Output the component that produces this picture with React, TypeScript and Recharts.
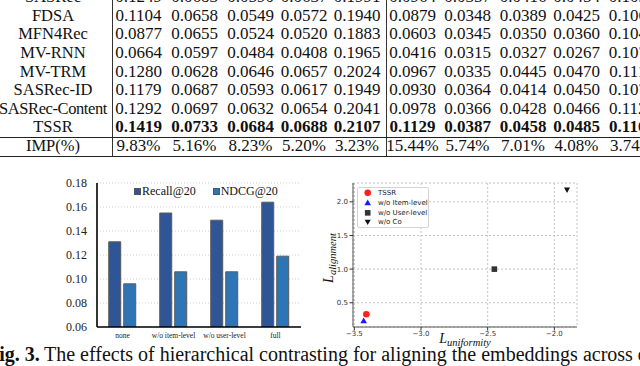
import React from 'react';
import {
  BarChart,
  Bar,
  XAxis,
  YAxis,
  CartesianGrid,
  Legend,
  ScatterChart,
  Scatter,
  Label
} from 'recharts';

const SERIF = '"Liberation Serif", "Times New Roman", serif';
const SANS = '"DejaVu Sans", sans-serif';

// results table (cropped at the top of the figure)
const methods = ['SASRec', 'FDSA', 'MFN4Rec', 'MV-RNN', 'MV-TRM', 'SASRec-ID', 'SASRec-Content', 'TSSR'];
const sasrecRow = ['0.1249', '0.0683', '0.0590', '0.0637', '0.1991', '0.0964', '0.0357', '0.0416', '0.0454', '0.1051'];
const fdsaRow = ['0.1104', '0.0658', '0.0549', '0.0572', '0.1940', '0.0879', '0.0348', '0.0389', '0.0425', '0.1066'];
const mfn4recRow = ['0.0877', '0.0655', '0.0524', '0.0520', '0.1883', '0.0603', '0.0345', '0.0350', '0.0360', '0.1045'];
const mvRnnRow = ['0.0664', '0.0597', '0.0484', '0.0408', '0.1965', '0.0416', '0.0315', '0.0327', '0.0267', '0.1071'];
const mvTrmRow = ['0.1280', '0.0628', '0.0646', '0.0657', '0.2024', '0.0967', '0.0335', '0.0445', '0.0470', '0.1113'];
const sasrecIdRow = ['0.1179', '0.0687', '0.0593', '0.0617', '0.1949', '0.0930', '0.0364', '0.0414', '0.0450', '0.1074'];
const sasrecContentRow = ['0.1292', '0.0697', '0.0632', '0.0654', '0.2041', '0.0978', '0.0366', '0.0428', '0.0466', '0.1122'];
const tssrRow = ['0.1419', '0.0733', '0.0684', '0.0688', '0.2107', '0.1129', '0.0387', '0.0458', '0.0485', '0.1164'];
const methodRows = [sasrecRow, fdsaRow, mfn4recRow, mvRnnRow, mvTrmRow, sasrecIdRow, sasrecContentRow, tssrRow];
const impLabel = 'IMP(%)';
const impRow = ['9.83%', '5.16%', '8.23%', '5.20%', '3.23%', '15.44%', '5.74%', '7.01%', '4.08%', '3.74%'];

// bar chart: hierarchical contrasting ablation
const variants = ['none', 'w/o item-level', 'w/o user-level', 'full'];
const recall20 = [0.131, 0.155, 0.149, 0.164];
const ndcg20 = [0.096, 0.106, 0.106, 0.119];
const barTicks = [0.06, 0.08, 0.1, 0.12, 0.14, 0.16, 0.18];

// scatter: alignment vs uniformity
const scatterNames = ['TSSR', 'w/o Item-level', 'w/o User-level', 'w/o Co'];
const uniformity = [-3.41, -3.43, -2.45, -1.905];
const alignment = [0.33, 0.23, 1.0, 2.18];
const uTicks = [-3.5, -3.0, -2.5, -2.0];
const aTicks = [0.5, 1.0, 1.5, 2.0];

const barData = variants.map((v, i) => ({ variant: v, recall: recall20[i], ndcg: ndcg20[i] }));
const barSeries = [
  { key: 'recall', name: 'Recall@20', color: '#2F5597' },
  { key: 'ndcg', name: 'NDCG@20', color: '#2E75B6' }
];

const ROW_H = 18.6;
const ROW0_TOP = -11.9;
const LABEL_CENTER = 53;
const colCenters = [138.5, 194.5, 250.5, 304, 357, 412.5, 467.5, 523, 576.5, 632];

function ResultsTable() {
  const rows = [
    ...methods.map((m, i) => ({ label: m, cells: methodRows[i], bold: m === 'TSSR' })),
    { label: impLabel, cells: impRow, bold: false }
  ];
  return (
    <div
      style={{
        position: 'absolute',
        left: 0,
        top: 0,
        width: 640,
        height: 160,
        overflow: 'hidden',
        fontFamily: SERIF,
        color: '#111'
      }}
    >
      {rows.map((r, i) => {
        const top = ROW0_TOP + i * ROW_H;
        const line = { position: 'absolute' as const, top, height: ROW_H, lineHeight: `${ROW_H}px`, whiteSpace: 'nowrap' as const, textAlign: 'center' as const };
        return (
          <React.Fragment key={r.label}>
            <div style={{ ...line, left: LABEL_CENTER - 90, width: 180, fontSize: 16.5, letterSpacing: r.label.length > 12 ? -0.4 : 0 }}>{r.label}</div>
            {r.cells.map((c, j) => (
              <div
                key={j}
                style={{ ...line, left: colCenters[j] - 40, width: 80, fontSize: 17, fontWeight: r.bold ? 700 : 400 }}
              >
                {c}
              </div>
            ))}
          </React.Fragment>
        );
      })}
      <div style={{ position: 'absolute', left: 111.5, top: 0, width: 1, height: 157, background: '#333' }} />
      <div style={{ position: 'absolute', left: 385.5, top: 0, width: 1, height: 157, background: '#333' }} />
      <div style={{ position: 'absolute', left: 0, top: 136.8, width: 640, height: 0.8, background: '#222' }} />
      <div style={{ position: 'absolute', left: 0, top: 155.6, width: 640, height: 1.3, background: '#222' }} />
    </div>
  );
}

function BarLegend() {
  return (
    <div style={{ display: 'flex', fontFamily: SERIF, fontSize: 12, color: '#111', lineHeight: '13px' }}>
      {barSeries.map(s => (
        <span key={s.key} style={{ display: 'flex', alignItems: 'center', marginRight: 17 }}>
          <span
            style={{ width: 5, height: 5, background: s.color, border: '1px solid #555', marginRight: 1 }}
          />
          {s.name}
        </span>
      ))}
    </div>
  );
}

const frame = { stroke: '#000', strokeWidth: 1.6 };

function AblationBars() {
  return (
    <div style={{ position: 'absolute', left: 40, top: 170 }}>
      <BarChart
        width={270}
        height={177}
        data={barData}
        margin={{ top: 13, right: 9, bottom: 0, left: 7 }}
        barCategoryGap="23%"
        barGap={3}
      >
        <CartesianGrid vertical={false} stroke="#cfcfcf" strokeDasharray="1 2" />
        <XAxis
          dataKey="variant"
          interval={0}
          height={20}
          tickSize={0}
          tickMargin={6}
          axisLine={frame}
          tick={{ fontSize: 7.5, fill: '#222', fontFamily: SERIF }}
        />
        <XAxis xAxisId="top" orientation="top" dataKey="variant" height={0} tick={false} tickLine={false} axisLine={frame} />
        <YAxis
          domain={[0.06, 0.18]}
          ticks={barTicks}
          allowDataOverflow
          tickFormatter={(v: number) => v.toFixed(2)}
          width={50}
          tickSize={0}
          tickMargin={10}
          axisLine={frame}
          tick={{ fontSize: 12, fill: '#222', fontFamily: SERIF }}
        />
        <YAxis yAxisId="right" orientation="right" domain={[0.06, 0.18]} width={0} tick={false} tickLine={false} axisLine={frame} />
        <Legend
          layout="horizontal"
          verticalAlign="middle"
          content={BarLegend}
          wrapperStyle={{ position: 'absolute', top: 15, left: 94, width: 'auto', height: 'auto' }}
        />
        {barSeries.map(s => (
          <Bar
            key={s.key}
            dataKey={s.key}
            name={s.name}
            fill={s.color}
            stroke="#5a5a5a"
            strokeWidth={1}
            isAnimationActive={false}
          />
        ))}
      </BarChart>
    </div>
  );
}

const markerColors = ['#ff1f1f', '#1a1aff', '#333333', '#111111'];

function markerPath(i: number, cx: number, cy: number) {
  const c = markerColors[i];
  if (i === 0) return <circle cx={cx} cy={cy} r={3.3} fill={c} />;
  if (i === 1)
    return <polygon points={`${cx},${cy - 3.4} ${cx + 3.3},${cy + 2.4} ${cx - 3.3},${cy + 2.4}`} fill={c} />;
  if (i === 2) return <rect x={cx - 2.8} y={cy - 2.8} width={5.6} height={5.6} fill={c} />;
  return <polygon points={`${cx},${cy + 3.2} ${cx + 3},${cy - 2.2} ${cx - 3},${cy - 2.2}`} fill={c} />;
}

function ScatterLegend() {
  return (
    <div
      style={{
        width: 70,
        height: 39,
        border: '1px solid #d4d4d4',
        borderRadius: 2,
        background: 'rgba(255,255,255,0.85)',
        fontFamily: SANS,
        fontSize: 7,
        color: '#222',
        position: 'relative'
      }}
    >
      {scatterNames.map((n, i) => (
        <div key={n} style={{ position: 'absolute', left: 0, top: 0.8 + i * 9.7, height: 9.7, display: 'flex', alignItems: 'center' }}>
          <svg width={20} height={9.7} style={{ display: 'block' }}>
            {markerPath(i, 9.7, 4.85)}
          </svg>
          <span style={{ whiteSpace: 'nowrap' }}>{n}</span>
        </div>
      ))}
    </div>
  );
}

const fmtMinus = (v: number) => v.toFixed(1).replace('-', '\u2212');

function XTitle(props: any) {
  const { x, y, width } = props.viewBox;
  return (
    <text x={x + width / 2} y={y + 16} textAnchor="middle" fontFamily={SERIF} fontStyle="italic" fill="#111">
      <tspan fontSize={14}>L</tspan>
      <tspan fontSize={10.5} dy={3}>uniformity</tspan>
    </text>
  );
}

function YTitle(props: any) {
  const { x, y, height } = props.viewBox;
  const cx = x + 13;
  const cy = y + height / 2 + 3;
  return (
    <text
      x={cx}
      y={cy}
      transform={`rotate(-90 ${cx} ${cy})`}
      textAnchor="middle"
      fontFamily={SERIF}
      fontStyle="italic"
      fill="#111"
    >
      <tspan fontSize={14}>L</tspan>
      <tspan fontSize={10.5} dy={3}>alignment</tspan>
    </text>
  );
}

const spine = { stroke: '#555', strokeWidth: 1 };
const sansTick = { fontSize: 7, fill: '#333', fontFamily: SANS };

function AlignUniformScatter() {
  return (
    <div style={{ position: 'absolute', left: 320, top: 170 }}>
      <ScatterChart width={280} height={185} margin={{ top: 13, right: 23, bottom: 0, left: 0 }}>
        <CartesianGrid stroke="#c4c4c4" strokeDasharray="2 2" />
        <XAxis
          type="number"
          dataKey="u"
          domain={[-3.51, -1.83]}
          allowDataOverflow
          ticks={uTicks}
          tickFormatter={fmtMinus}
          height={28}
          tickSize={3.5}
          tickMargin={1}
          tickLine={{ stroke: '#333' }}
          axisLine={spine}
          tick={sansTick}
        >
          <Label content={XTitle} />
        </XAxis>
        <XAxis xAxisId="top" orientation="top" type="number" domain={[-3.51, -1.83]} height={0} tick={false} tickLine={false} axisLine={spine} />
        <YAxis
          type="number"
          dataKey="a"
          domain={[0.14, 2.28]}
          allowDataOverflow
          ticks={aTicks}
          tickFormatter={(v: number) => v.toFixed(1)}
          width={33}
          tickSize={3.5}
          tickMargin={1.5}
          tickLine={{ stroke: '#333' }}
          axisLine={spine}
          tick={sansTick}
        >
          <Label content={YTitle} />
        </YAxis>
        <YAxis yAxisId="right" orientation="right" type="number" domain={[0.14, 2.28]} width={0} tick={false} tickLine={false} axisLine={spine} />
        <Legend
          layout="horizontal"
          verticalAlign="middle"
          content={ScatterLegend}
          wrapperStyle={{ position: 'absolute', top: 16.5, left: 37, width: 'auto', height: 'auto' }}
        />
        {scatterNames.map((name, i) => (
          <Scatter
            key={name}
            name={name}
            data={[{ u: uniformity[i], a: alignment[i] }]}
            shape={(p: any) => markerPath(i, p.cx, p.cy)}
            isAnimationActive={false}
          />
        ))}
      </ScatterChart>
    </div>
  );
}

function Caption() {
  return (
    <div style={{ position: 'absolute', left: 0, top: 343, width: 640, height: 23, overflow: 'hidden', fontFamily: SERIF, fontSize: 20, color: '#111', whiteSpace: 'nowrap' }}>
      <span style={{ position: 'absolute', left: -13, top: 0, fontWeight: 700 }}>Fig. 3.</span>
      <span style={{ position: 'absolute', left: 44, top: 0 }}>
        The effects of hierarchical contrasting for aligning the embeddings across different
      </span>
    </div>
  );
}

export default function App() {
  return (
    <div style={{ position: 'absolute', left: 0, top: 0, width: 640, height: 366, overflow: 'hidden', background: '#fff' }}>
      <ResultsTable />
      <AblationBars />
      <AlignUniformScatter />
      <Caption />
    </div>
  );
}
